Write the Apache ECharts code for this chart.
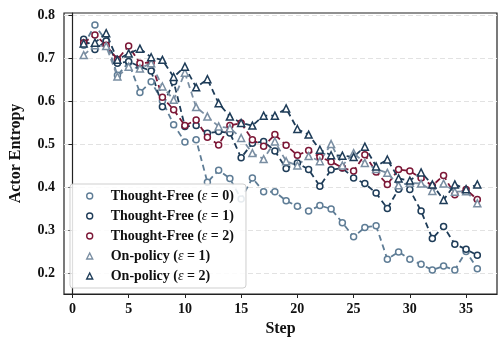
<!DOCTYPE html>
<html>
<head>
<meta charset="utf-8">
<script src="https://cdn.jsdelivr.net/npm/echarts@6/dist/echarts.min.js"></script>
<style>
  html, body { margin: 0; padding: 0; background: #fff; }
  #chart { width: 498px; height: 342px; }
</style>
</head>
<body>
<div id="chart"></div>
<script>
// steps 1..36
const steps = Array.from({ length: 36 }, (_, i) => i + 1);

const tfEps0 = [0.73, 0.777, 0.74, 0.66, 0.69, 0.62, 0.645, 0.60, 0.545, 0.505, 0.51, 0.411,
  0.439, 0.42, 0.372, 0.421, 0.389, 0.389, 0.368, 0.355, 0.344, 0.357, 0.349, 0.317,
  0.284, 0.306, 0.31, 0.232, 0.249, 0.232, 0.22, 0.207, 0.216, 0.207, 0.25, 0.21];
const tfEps1 = [0.744, 0.72, 0.74, 0.688, 0.692, 0.68, 0.67, 0.587, 0.645, 0.541, 0.543, 0.525,
  0.529, 0.526, 0.468, 0.502, 0.506, 0.484, 0.443, 0.456, 0.441, 0.402, 0.44, 0.444,
  0.421, 0.408, 0.386, 0.35, 0.395, 0.394, 0.344, 0.28, 0.308, 0.267, 0.255, 0.241];
const tfEps2 = [0.736, 0.754, 0.73, 0.697, 0.728, 0.688, 0.69, 0.609, 0.58, 0.543, 0.556, 0.516,
  0.498, 0.543, 0.549, 0.51, 0.495, 0.522, 0.497, 0.474, 0.485, 0.47, 0.459, 0.445,
  0.437, 0.475, 0.435, 0.406, 0.441, 0.437, 0.421, 0.403, 0.427, 0.382, 0.394, 0.371];
const opEps1 = [0.707, 0.73, 0.728, 0.657, 0.68, 0.676, 0.688, 0.634, 0.603, 0.666, 0.586, 0.564,
  0.541, 0.537, 0.514, 0.479, 0.465, 0.506, 0.46, 0.45, 0.472, 0.46, 0.5, 0.45,
  0.479, 0.456, 0.442, 0.433, 0.404, 0.41, 0.408, 0.391, 0.408, 0.389, 0.39, 0.362];
const opEps2 = [0.734, 0.736, 0.758, 0.696, 0.711, 0.722, 0.702, 0.696, 0.656, 0.68, 0.632, 0.651,
  0.595, 0.564, 0.549, 0.543, 0.566, 0.566, 0.583, 0.535, 0.522, 0.487, 0.474, 0.473,
  0.47, 0.494, 0.448, 0.464, 0.42, 0.415, 0.434, 0.406, 0.37, 0.406, 0.395, 0.406];

const xTicks = [0, 5, 10, 15, 20, 25, 30, 35];
const yTicks = [0.2, 0.3, 0.4, 0.5, 0.6, 0.7, 0.8];

const FONT = '"Liberation Serif", "DejaVu Serif", serif';
const lineDefs = [
  { name: 'tf0', label: 'Thought-Free', eps: '0', data: tfEps0, color: '#5f7d96', symbol: 'circle' },
  { name: 'tf1', label: 'Thought-Free', eps: '1', data: tfEps1, color: '#1e3c58', symbol: 'circle' },
  { name: 'tf2', label: 'Thought-Free', eps: '2', data: tfEps2, color: '#7c1736', symbol: 'circle' },
  { name: 'op1', label: 'On-policy', eps: '1', data: opEps1, color: '#7a8ea2', symbol: 'triangle' },
  { name: 'op2', label: 'On-policy', eps: '2', data: opEps2, color: '#1e3c58', symbol: 'triangle' },
];

const chart = echarts.init(document.getElementById('chart'), null, { renderer: 'canvas' });

const option = {
  animation: false,
  backgroundColor: '#fff',
  textStyle: { fontFamily: FONT },
  grid: {
    left: 63, right: 1, top: 13, bottom: 47,
    show: true, borderColor: '#222', borderWidth: 1.2, backgroundColor: 'transparent'
  },
  legend: {
    orient: 'vertical',
    left: 70, top: 184,
    itemWidth: 6, itemHeight: 6,
    itemGap: 6,
    padding: [5, 12, 5, 16],
    backgroundColor: 'rgba(255,255,255,0.85)',
    borderColor: '#cfcfcf', borderWidth: 1, borderRadius: 3,
    data: lineDefs.map(d => ({
      name: d.name,
      icon: d.symbol,
      itemStyle: { color: '#fff', borderColor: d.color, borderWidth: 1.4 }
    })),
    formatter: name => {
      const d = lineDefs.find(l => l.name === name);
      return '{b|' + d.label + ' (}{i|ε}{b| = ' + d.eps + ')}';
    },
    textStyle: {
      padding: [0, 0, 0, 13],
      rich: {
        b: { fontFamily: FONT, fontWeight: 'bold', fontSize: 14, color: '#111' },
        i: { fontFamily: FONT, fontStyle: 'italic', fontSize: 14, color: '#111' }
      }
    }
  },
  xAxis: {
    type: 'value',
    min: -0.75, max: 37.75,
    name: 'Step', nameLocation: 'middle', nameGap: 27,
    nameTextStyle: { fontFamily: FONT, fontWeight: 'bold', fontSize: 16, color: '#111' },
    axisLine: { show: true, lineStyle: { color: '#222', width: 1.2 } },
    axisTick: { show: true, length: 4, customValues: xTicks, lineStyle: { color: '#222' } },
    axisLabel: { customValues: xTicks, margin: 8, fontFamily: FONT, fontWeight: 'bold', fontSize: 14, color: '#111' },
    splitLine: { show: false }
  },
  yAxis: {
    type: 'value',
    min: 0.151, max: 0.805,
    name: 'Actor Entropy', nameLocation: 'middle', nameGap: 40,
    nameTextStyle: { fontFamily: FONT, fontWeight: 'bold', fontSize: 16, color: '#111' },
    axisLine: { show: true, lineStyle: { color: '#222', width: 1.2 } },
    axisTick: { show: true, length: 4, customValues: yTicks, lineStyle: { color: '#222' } },
    axisLabel: { customValues: yTicks, margin: 9, fontFamily: FONT, fontWeight: 'bold', fontSize: 14, color: '#111',
      formatter: v => v.toFixed(1) },
    splitLine: { show: true, lineStyle: { color: '#e2e2e2', type: [5, 3], width: 1 } }
  },
  series: lineDefs.map(d => ({
    name: d.name,
    type: 'line',
    data: d.data.map((v, i) => [steps[i], v]),
    symbol: d.symbol,
    symbolSize: d.symbol === 'circle' ? 6 : 7,
    showAllSymbol: true,
    lineStyle: { color: d.color, width: 1.8, type: [6, 4] },
    itemStyle: { color: '#fff', borderColor: d.color, borderWidth: 1.5 }
  }))
};

chart.setOption(option);
</script>
</body>
</html>
